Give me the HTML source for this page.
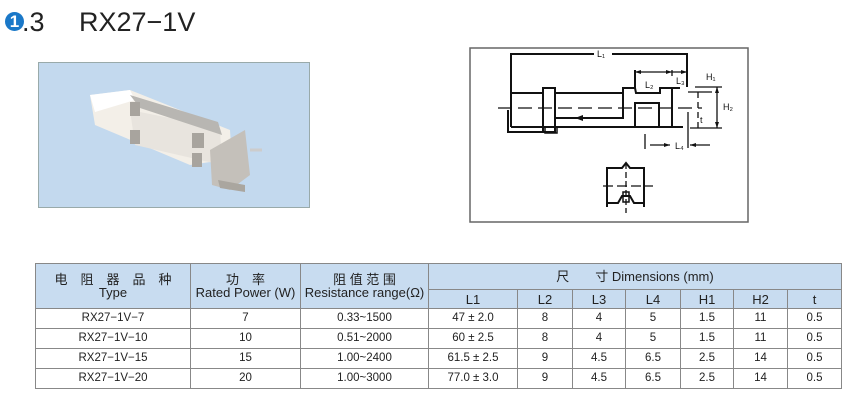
<!DOCTYPE html>
<html><head><meta charset="utf-8"><style>
body{margin:0;width:850px;height:400px;background:#fff;position:relative;overflow:hidden;font-family:"Liberation Sans","Noto Sans CJK SC",sans-serif;}
.t{position:absolute;white-space:nowrap;}
table{position:absolute;left:35px;top:263px;border-collapse:collapse;font-size:11.5px;color:#222;}
td{border:1px solid #888;text-align:center;padding:0;line-height:13px;}
.h td{background:#c8dcf0;font-size:13px;}
</style></head><body>
<div class="t" style="left:5px;top:12px;width:19px;height:19px;border-radius:50%;background:#1a78c8;color:#fff;font-size:17px;line-height:20px;text-align:center;font-weight:bold;">1</div>
<div class="t" style="left:22px;top:7px;font-size:27px;color:#222;">.3</div>
<div class="t" style="left:79px;top:7px;font-size:27px;color:#222;">RX27−1V</div>

<svg style="position:absolute;left:0;top:0" width="850" height="260">
<rect x="38.5" y="62.5" width="271" height="145" fill="#c3d9ee" stroke="#9aa" />
<polygon points="90,95 130,90 230,130 232,160 210,162 190,165 95,125" fill="#f3efe8"/>
<polygon points="90,95 130,90 135,100 95,112" fill="#fff"/>
<polygon points="130,110 220,128 222,165 135,145" fill="#e8e4de"/>
<polygon points="130,95 218,122 222,135 140,108" fill="#b8b6b2"/>
<rect x="130" y="102" width="10" height="14" fill="#a8a49e"/>
<rect x="130" y="130" width="10" height="14" fill="#a8a49e"/>
<rect x="192" y="133" width="12" height="15" fill="#a8a49e"/>
<rect x="192" y="153" width="10" height="14" fill="#a8a49e"/>
<polygon points="210,150 245,130 250,175 230,190 212,185" fill="#c4c0ba"/>
<polygon points="218,180 245,185 245,192 220,188" fill="#aaa69f"/>
<line x1="250" y1="150" x2="262" y2="150" stroke="#ccc" stroke-width="3"/>

<g stroke="#111" stroke-width="2" fill="none">
<rect x="470" y="48" width="278" height="174" stroke="#666" stroke-width="1.5"/>
<polyline points="511,93 511,54 594,54"/><polyline points="612,54 687,54 687,87"/>
<polyline points="511,93 543,93"/><rect x="543" y="88" width="12" height="44"/>
<polyline points="508,110 508,132 545,132"/><line x1="511" y1="127" x2="683" y2="127"/><line x1="511" y1="93" x2="511" y2="127"/>
<polyline points="555,93 623,93 623,88 635,88 636,93 660,93 660,88 680,88"/>
<polyline points="555,118 623,118 623,93"/>
<rect x="635" y="103" width="24" height="24"/>
<line x1="672" y1="88" x2="672" y2="127"/>
<line x1="635" y1="70" x2="635" y2="88"/>
<rect x="545" y="127" width="12" height="6" stroke-width="1.5"/>
</g>
<g stroke="#111" stroke-width="1.3" fill="none">
<line x1="498" y1="108" x2="702" y2="108" stroke-dasharray="14,6"/>
<line x1="635" y1="72" x2="687" y2="72"/><line x1="672" y1="70" x2="672" y2="76"/>
<line x1="695" y1="87" x2="722" y2="87"/><line x1="688" y1="92" x2="712" y2="92"/>
<line x1="717" y1="87" x2="717" y2="128"/><line x1="690" y1="128" x2="722" y2="128"/>
<line x1="698" y1="92" x2="698" y2="128" stroke-dasharray="6,4"/>
<line x1="645" y1="134" x2="645" y2="149"/><line x1="650" y1="145" x2="670" y2="145"/>
<line x1="688" y1="112" x2="688" y2="148"/><line x1="690" y1="145" x2="710" y2="145"/>
<line x1="603" y1="186" x2="653" y2="186" stroke-dasharray="10,4"/>
<line x1="626" y1="163" x2="626" y2="213" stroke-dasharray="6,3"/>
</g>
<g stroke="#111" stroke-width="2" fill="none">
<polyline points="607,207 607,168 622,168 626,163 630,168 644,168 644,207"/>
<polyline points="607,203 618,203 622,196 630,196 634,203 644,203"/>
<rect x="623" y="192" width="6" height="10" stroke-width="1.5"/>
</g>
<g fill="#111"><polygon points="575,118 583,115 583,121"/><polygon points="635,72 641,70 641,74"/><polygon points="672,72 666,70 666,74"/><polygon points="687,72 681,70 681,74"/>
<polygon points="670,145 664,143 664,147"/><polygon points="690,145 696,143 696,147"/>
<polygon points="717,87 715,93 719,93"/><polygon points="717,128 715,122 719,122"/></g>
<g font-size="9" fill="#111"><text x="597" y="57">L₁</text><text x="645" y="88">L₂</text><text x="676" y="84">L₃</text><text x="706" y="80">H₁</text><text x="723" y="110">H₂</text><text x="700" y="123">t</text><text x="675" y="149">L₄</text></g>
</svg>

<table>
<tr class="h" style="height:26px"><td rowspan="2" style="width:154px">电　阻　器　品　种<br>Type</td><td rowspan="2" style="width:109px">功　率<br>Rated Power (W)</td><td rowspan="2" style="width:127px">阻 值 范 围<br>Resistance range(Ω)</td><td colspan="7">尺　　寸 Dimensions (mm)</td></tr>
<tr class="h" style="height:19px"><td style="width:88px">L1</td><td style="width:54px">L2</td><td style="width:52px">L3</td><td style="width:54px">L4</td><td style="width:52px">H1</td><td style="width:53px">H2</td><td style="width:53px">t</td></tr>
<tr style="height:20px"><td>RX27−1V−7</td><td>7</td><td>0.33~1500</td><td>47 ± 2.0</td><td>8</td><td>4</td><td>5</td><td>1.5</td><td>11</td><td>0.5</td></tr>
<tr style="height:20px"><td>RX27−1V−10</td><td>10</td><td>0.51~2000</td><td>60 ± 2.5</td><td>8</td><td>4</td><td>5</td><td>1.5</td><td>11</td><td>0.5</td></tr>
<tr style="height:20px"><td>RX27−1V−15</td><td>15</td><td>1.00~2400</td><td>61.5 ± 2.5</td><td>9</td><td>4.5</td><td>6.5</td><td>2.5</td><td>14</td><td>0.5</td></tr>
<tr style="height:20px"><td>RX27−1V−20</td><td>20</td><td>1.00~3000</td><td>77.0 ± 3.0</td><td>9</td><td>4.5</td><td>6.5</td><td>2.5</td><td>14</td><td>0.5</td></tr>
</table>
</body></html>
